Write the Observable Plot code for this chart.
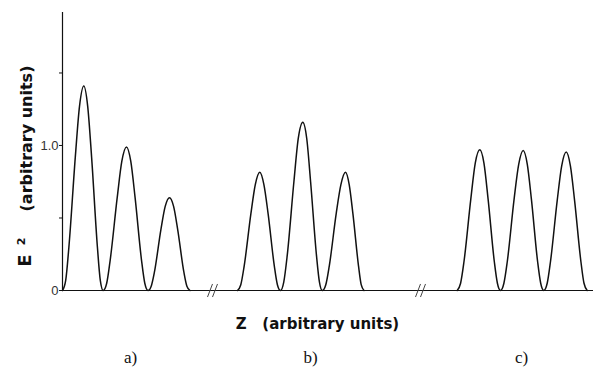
<!DOCTYPE html>
<html><head><meta charset="utf-8">
<script src="https://cdn.jsdelivr.net/npm/d3@7"></script>
<script src="https://cdn.jsdelivr.net/npm/@observablehq/plot@0.6"></script>
<style>body{margin:0;background:#fff}</style>
</head><body><div id="chart"></div>
<script>
// Panel a) — Z positions (arbitrary units) and E² values
const zA = [0, 3.2, 6.4, 12.8, 17.0, 21.3, 25.2, 29.1, 34.9, 37.8, 40.7,
            44.2, 47.7, 54.7, 59.3, 64.0, 68.3, 72.6, 79.0, 82.3, 85.5,
            88.7, 92.0, 98.4, 102.7, 107.0, 111.1, 115.2, 121.3, 124.4, 127.5];
const eA = [0, 0.07, 0.30, 0.92, 1.27, 1.41, 1.27, 0.92, 0.30, 0.07, 0,
            0.05, 0.21, 0.64, 0.89, 0.99, 0.89, 0.64, 0.21, 0.05, 0,
            0.03, 0.13, 0.42, 0.58, 0.64, 0.58, 0.42, 0.13, 0.03, 0];
// Panel b)
const zB = [175, 178.3, 181.7, 188.4, 192.8, 197.3, 201.4, 205.6, 211.8, 214.9, 218,
            221.3, 224.7, 231.4, 235.8, 240.3, 244.2, 248.1, 254.0, 256.9, 259.8,
            263.3, 266.8, 273.7, 278.4, 283.0, 286.7, 290.4, 296.0, 298.7, 301.5];
const eB = [0, 0.04, 0.17, 0.53, 0.73, 0.815, 0.73, 0.53, 0.17, 0.04, 0,
            0.06, 0.24, 0.75, 1.05, 1.16, 1.05, 0.75, 0.24, 0.06, 0,
            0.04, 0.17, 0.53, 0.73, 0.815, 0.73, 0.53, 0.17, 0.04, 0];
// Panel c)
const zC = [394.7, 398.1, 401.5, 408.3, 412.8, 417.3, 421.4, 425.6, 431.8, 434.9, 438,
            441.4, 444.8, 451.6, 456.2, 460.7, 464.8, 468.9, 475.1, 478.2, 481.3,
            484.7, 488.0, 494.7, 499.2, 503.7, 507.9, 512.1, 518.4, 521.5, 524.7];
const eC = [0, 0.05, 0.20, 0.63, 0.88, 0.97, 0.88, 0.63, 0.20, 0.05, 0,
            0.05, 0.20, 0.63, 0.87, 0.965, 0.87, 0.63, 0.20, 0.05, 0,
            0.05, 0.20, 0.62, 0.86, 0.955, 0.86, 0.62, 0.20, 0.05, 0];

const panelNames = ["a)", "b)", "c)"];
const panelCenters = [68, 248, 459];
const axisBreaks = [150, 358];
const yTicks = [0, 0.5, 1.0, 1.5];
const yTickLabels = ["0", "", "1.0", ""];
const yLabelMain = "(arbitrary units)";
const yLabelE = "E";
const yLabelSup = "2";
const xLabel = "Z\u00a0\u00a0\u00a0(arbitrary units)";

const rows = [];
[[zA, eA], [zB, eB], [zC, eC]].forEach(([zs, es], p) =>
  zs.forEach((z, i) => rows.push({panel: panelNames[p], z, e: es[i]})));

const breakLinks = [];
axisBreaks.forEach(b => [-2.5, 2.5].forEach(o =>
  breakLinks.push({x1: b + o - 2.5, y1: -0.045, x2: b + o + 2.5, y2: 0.045})));

const labelFont = "DejaVu Sans";

const chart = Plot.plot({
  width: 599, height: 371,
  marginLeft: 62, marginRight: 6, marginTop: 12, marginBottom: 81,
  style: {background: "#fff", color: "#111"},
  x: {domain: [0, 531], axis: null},
  y: {domain: [0, 1.917], axis: null},
  marks: [
    Plot.ruleX([0], {stroke: "#111", strokeWidth: 1.2}),
    Plot.ruleY([0], {stroke: "#111", strokeWidth: 1.2}),
    Plot.axisY({ticks: yTicks, tickSize: 3, tickPadding: 1,
      tickFormat: d => yTickLabels[yTicks.indexOf(d)],
      fontSize: 13, fontFamily: "Liberation Sans", fill: "#333", label: null}),
    Plot.line(rows, {x: "z", y: "e", z: "panel", curve: "monotone-x",
      stroke: "#111", strokeWidth: 1.5}),
    Plot.link(breakLinks, {x1: "x1", y1: "y1", x2: "x2", y2: "y2",
      stroke: "#444", strokeWidth: 1}),
    Plot.text([xLabel], {frameAnchor: "bottom", x: [255], text: d => d, dy: 38,
      fontSize: 15, fontFamily: labelFont, fontWeight: "bold", fill: "#111"}),
    Plot.text(panelNames, {x: panelCenters, frameAnchor: "bottom", text: d => d, dy: 72,
      fontSize: 17, fontFamily: "Liberation Serif", fill: "#111"}),
    Plot.text([yLabelMain], {frameAnchor: "left", text: d => d, rotate: -90,
      textAnchor: "middle", dx: -36, dy: -13,
      fontSize: 16, fontFamily: labelFont, fontWeight: "bold",
      fill: "#111", letterSpacing: "1px"}),
    Plot.text([yLabelE], {frameAnchor: "left", text: d => d, rotate: -90,
      textAnchor: "middle", dx: -37, dy: 109,
      fontSize: 18, fontFamily: labelFont, fontWeight: "bold", fill: "#111"}),
    Plot.text([yLabelSup], {frameAnchor: "left", text: d => d, rotate: -90,
      textAnchor: "middle", dx: -41, dy: 90,
      fontSize: 11, fontFamily: labelFont, fontWeight: "bold", fill: "#111"})
  ]
});
document.getElementById("chart").appendChild(chart);
</script>
</body></html>
